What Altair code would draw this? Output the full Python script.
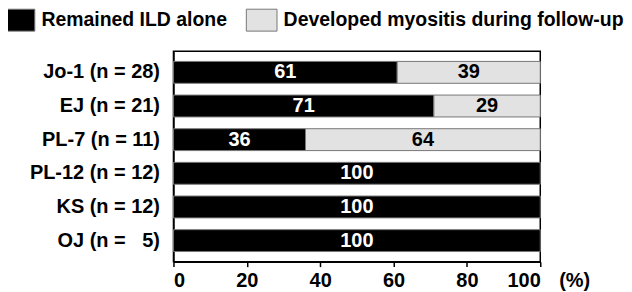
import altair as alt
import pandas as pd

groups = ["Jo-1 (n = 28)", "EJ (n = 21)", "PL-7 (n = 11)", "PL-12 (n = 12)", "KS (n = 12)", "OJ (n = \u20075)"]
remained = [61, 71, 36, 100, 100, 100]
developed = [39, 29, 64, 0, 0, 0]
series = ["Remained ILD alone", "Developed myositis during follow-up"]
x_ticks = [0, 20, 40, 60, 80, 100]

rows = []
for g, r, d in zip(groups, remained, developed):
    rows.append({"group": g, "series": series[0], "value": r, "start": 0, "end": r,
                 "mid": r / 2})
    if d > 0:
        rows.append({"group": g, "series": series[1], "value": d, "start": r, "end": r + d,
                     "mid": r + d / 2})
df = pd.DataFrame(rows)

FONT = "Liberation Sans"
FS = 20

y_enc = alt.Y("group:N", sort=groups, title=None,
              scale=alt.Scale(paddingInner=0.35, paddingOuter=0.3),
              axis=alt.Axis(labelFont=FONT, labelFontSize=FS, labelFontWeight="bold",
                            labelColor="black", labelPadding=14, ticks=False,
                            domain=True, domainColor="black", domainWidth=1.5))

bars = alt.Chart(df).mark_bar(stroke="#777777", strokeWidth=1).encode(
    y=y_enc,
    x=alt.X("start:Q", scale=alt.Scale(domain=[0, 100], nice=False), title=None,
            axis=alt.Axis(values=x_ticks, labelFont=FONT, labelFontSize=FS,
                          labelFontWeight="bold", labelColor="black", labelPadding=4,
                          tickColor="black", tickSize=5, tickWidth=1.5,
                          domainColor="black", domainWidth=1.5, grid=False)),
    x2="end:Q",
    color=alt.Color("series:N", sort=series,
                    scale=alt.Scale(domain=series, range=["#000000", "#e2e2e2"]),
                    legend=alt.Legend(title=None, orient="none", direction="horizontal",
                                      legendX=-166, legendY=-43, padding=0,
                                      symbolType="M-1.4,-1H1.4V1H-1.4Z", symbolSize=484,
                                      symbolStrokeColor="#777777", symbolStrokeWidth=1,
                                      symbolOpacity=1, labelLimit=0,
                                      labelFont=FONT, labelFontSize=19.5, labelFontWeight="bold",
                                      labelColor="black", columnPadding=17, labelOffset=10.5)),
)

labels = alt.Chart(df).mark_text(font=FONT, fontSize=FS, fontWeight="bold", baseline="middle").encode(
    y=alt.Y("group:N", sort=groups),
    x="mid:Q",
    text="value:Q",
    color=alt.Color("series:N", scale=alt.Scale(domain=series, range=["white", "black"]), legend=None),
)

pct = alt.Chart(pd.DataFrame({"x": [100], "t": ["(%)"]})).mark_text(
    font=FONT, fontSize=FS, fontWeight="bold", align="left", baseline="top", dx=19, color="black"
).encode(x="x:Q", y=alt.value(220), text="t:N")

chart = alt.layer(bars, labels, pct).resolve_scale(color="independent").properties(
    width=368, height=211, padding=0
).configure_view(stroke="black", strokeWidth=1.5)

chart.save("out.html", embed_options={"renderer": "svg", "actions": False})
